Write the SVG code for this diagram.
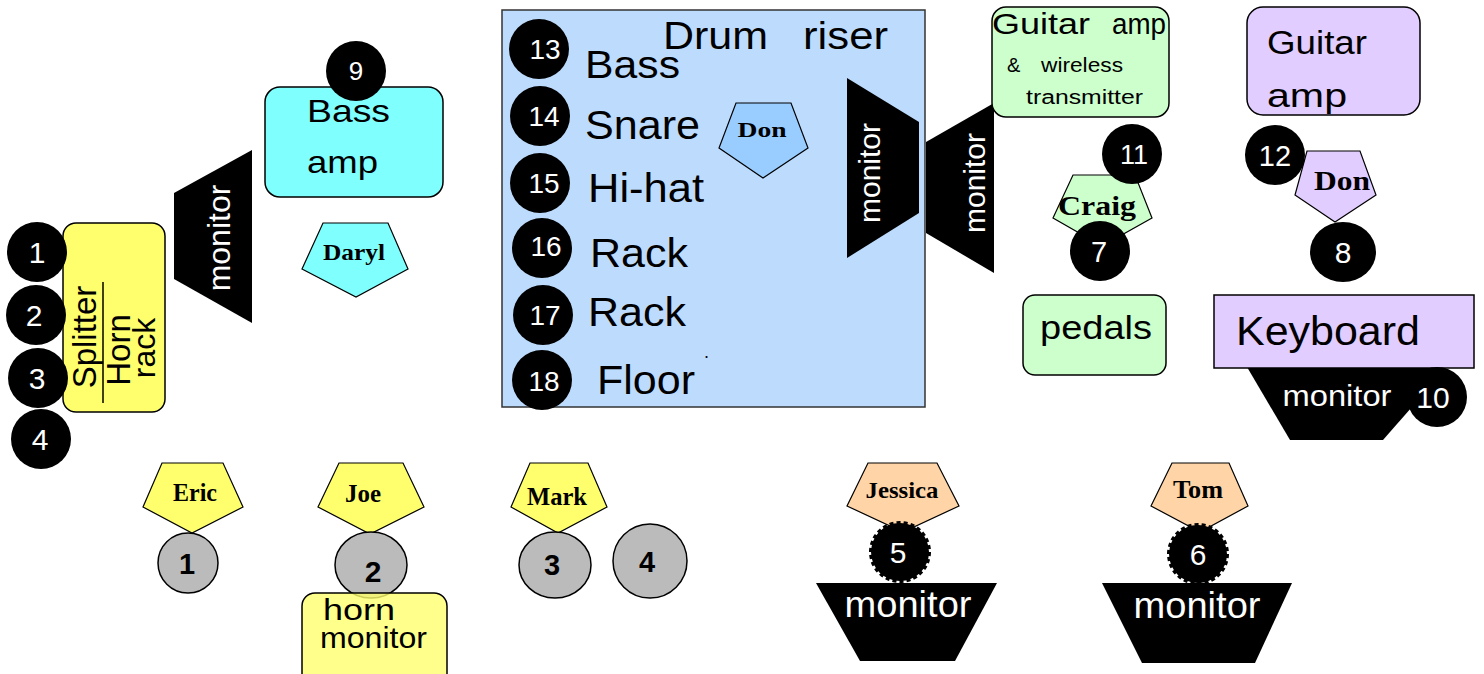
<svg xmlns="http://www.w3.org/2000/svg" width="1484" height="674" viewBox="0 0 1484 674">
<style>
.sans{font-family:"Liberation Sans",Arial,sans-serif}
.ser{font-family:"Liberation Serif","Times New Roman",serif;font-weight:bold;fill:#000;text-anchor:middle}
.bc{fill:#000}
.gc{fill:#bbbbbb;stroke:#000;stroke-width:1.5}
.wn{font-family:"Liberation Sans",Arial,sans-serif;fill:#fff;text-anchor:middle}
.gn{font-family:"Liberation Sans",Arial,sans-serif;fill:#000;font-weight:bold;text-anchor:middle}
.mon{fill:#000}
.box{stroke:#000;stroke-width:1.5}
.pent{stroke:#000;stroke-width:1.2}
.t{font-family:"Liberation Sans",Arial,sans-serif;fill:#000}
</style>
<rect width="1484" height="674" fill="#fff"/>
<g id="connectors"></g>

<g id="drum-riser">
<rect x="502" y="10" width="423" height="397" fill="#bddcfd" stroke="#333" stroke-width="1.5"/>
<text class="t" x="663" y="49" font-size="38" textLength="105" lengthAdjust="spacingAndGlyphs">Drum</text>
<text class="t" x="803" y="49" font-size="38" textLength="85" lengthAdjust="spacingAndGlyphs">riser</text>
<text class="t" x="585" y="78" font-size="38" textLength="95" lengthAdjust="spacingAndGlyphs">Bass</text>
<text class="t" x="585" y="139" font-size="40" textLength="115" lengthAdjust="spacingAndGlyphs">Snare</text>
<text class="t" x="588" y="202" font-size="40" textLength="116" lengthAdjust="spacingAndGlyphs">Hi-hat</text>
<text class="t" x="590" y="267" font-size="40" textLength="98" lengthAdjust="spacingAndGlyphs">Rack</text>
<text class="t" x="588" y="326" font-size="40" textLength="98" lengthAdjust="spacingAndGlyphs">Rack</text>
<text class="t" x="597" y="394" font-size="40" textLength="98" lengthAdjust="spacingAndGlyphs">Floor</text>
<text class="t" x="704" y="358" font-size="18">.</text>
</g>

<g id="c13"><circle class="bc" cx="539" cy="49" r="30"/><text class="wn" x="545" y="59" font-size="28">13</text></g>
<g id="c14"><circle class="bc" cx="540" cy="116" r="30"/><text class="wn" x="544" y="126" font-size="28">14</text></g>
<g id="c15"><circle class="bc" cx="540" cy="183" r="30"/><text class="wn" x="544" y="193" font-size="28">15</text></g>
<g id="c16"><circle class="bc" cx="542" cy="248" r="30"/><text class="wn" x="546" y="256" font-size="28">16</text></g>
<g id="c17"><circle class="bc" cx="543" cy="315" r="30"/><text class="wn" x="545" y="325" font-size="28">17</text></g>
<g id="c18"><circle class="bc" cx="542" cy="380" r="30"/><text class="wn" x="544" y="391" font-size="28">18</text></g>

<g id="don-drums">
<polygon class="pent" fill="#99ccff" points="736,103 791,103 808,148 763,178 719,148"/>
<text class="ser" x="762" y="137" font-size="22" textLength="49" lengthAdjust="spacingAndGlyphs">Don</text>
</g>

<g id="riser-monitor">
<polygon class="mon" points="847,78 919,122 919,213 847,258"/>
<text class="wn" font-size="30" transform="translate(880,173) rotate(-90)">monitor</text>
</g>

<g id="right-monitor">
<polygon class="mon" points="926,142 994,103 994,273 926,233"/>
<text class="wn" font-size="30" transform="translate(985,183) rotate(-90)">monitor</text>
</g>

<g id="left-monitor">
<polygon class="mon" points="174,193 252,150 252,323 174,279"/>
<text class="wn" font-size="32" transform="translate(230,238) rotate(-90)">monitor</text>
</g>

<g id="splitter">
<rect class="box" x="63" y="223" width="102" height="189" rx="13" fill="#ffff6e"/>
<line x1="103" y1="282" x2="103" y2="403" stroke="#000" stroke-width="1.5"/>
<text class="t" font-size="33" text-anchor="middle" transform="translate(96,337) rotate(-90)">Splitter</text>
<text class="t" font-size="33" text-anchor="middle" transform="translate(130,350) rotate(-90)">Horn</text>
<text class="t" font-size="32" text-anchor="middle" transform="translate(155,348) rotate(-90)">rack</text>
</g>

<g id="c1"><circle class="bc" cx="37" cy="252" r="30"/><text class="wn" x="37" y="263" font-size="30">1</text></g>
<g id="c2"><circle class="bc" cx="36" cy="315" r="30"/><text class="wn" x="34" y="326" font-size="30">2</text></g>
<g id="c3"><circle class="bc" cx="38" cy="378" r="30"/><text class="wn" x="37" y="389" font-size="30">3</text></g>
<g id="c4"><circle class="bc" cx="41" cy="439" r="30"/><text class="wn" x="40" y="450" font-size="30">4</text></g>

<g id="bass-amp">
<rect class="box" x="265" y="87" width="178" height="110" rx="15" fill="#80ffff"/>
<text class="t" x="307" y="122" font-size="32" textLength="83" lengthAdjust="spacingAndGlyphs">Bass</text>
<text class="t" x="307" y="173" font-size="32" textLength="71" lengthAdjust="spacingAndGlyphs">amp</text>
</g>
<g id="c9"><circle class="bc" cx="356" cy="71" r="30"/><text class="wn" x="356" y="80" font-size="26">9</text></g>

<g id="daryl">
<polygon class="pent" fill="#80ffff" points="323,223 388,223 408,269 356,297 302,269"/>
<text class="ser" x="354" y="260" font-size="24" textLength="62" lengthAdjust="spacingAndGlyphs">Daryl</text>
</g>

<g id="guitar-amp-craig">
<rect class="box" x="992" y="7" width="177" height="110" rx="14" fill="#ccffcc"/>
<text class="t" x="992" y="34" font-size="30" textLength="98" lengthAdjust="spacingAndGlyphs">Guitar</text>
<text class="t" x="1112" y="34" font-size="30" textLength="54" lengthAdjust="spacingAndGlyphs">amp</text>
<text class="t" x="1007" y="72" font-size="20">&amp;</text>
<text class="t" x="1041" y="72" font-size="20" textLength="82" lengthAdjust="spacingAndGlyphs">wireless</text>
<text class="t" x="1026" y="104" font-size="20" textLength="117" lengthAdjust="spacingAndGlyphs">transmitter</text>
</g>

<g id="craig">
<polygon class="pent" fill="#ccffcc" points="1073,175 1135,175 1152,218 1102,246 1053,218"/>
<text class="ser" x="1097" y="215" font-size="27" textLength="78" lengthAdjust="spacingAndGlyphs">Craig</text>
</g>
<g id="c11"><circle class="bc" cx="1132" cy="154" r="30"/><text class="wn" x="1134" y="164" font-size="27">11</text></g>
<g id="c7"><circle class="bc" cx="1100" cy="251" r="30"/><text class="wn" x="1099" y="262" font-size="29">7</text></g>

<g id="pedals">
<rect class="box" x="1023" y="295" width="143" height="80" rx="12" fill="#ccffcc"/>
<text class="t" x="1040" y="339" font-size="34" textLength="112" lengthAdjust="spacingAndGlyphs">pedals</text>
</g>

<g id="guitar-amp-don">
<rect class="box" x="1247" y="7" width="173" height="108" rx="16" fill="#e1cdff"/>
<text class="t" x="1267" y="54" font-size="34" textLength="100" lengthAdjust="spacingAndGlyphs">Guitar</text>
<text class="t" x="1267" y="107" font-size="34" textLength="80" lengthAdjust="spacingAndGlyphs">amp</text>
</g>

<g id="don-keys">
<polygon class="pent" fill="#e1cdff" points="1307,151 1360,151 1376,195 1335,222 1295,195"/>
<text class="ser" x="1342" y="190" font-size="28" textLength="56" lengthAdjust="spacingAndGlyphs">Don</text>
</g>
<g id="c12"><circle class="bc" cx="1275" cy="155" r="30"/><text class="wn" x="1275" y="166" font-size="29">12</text></g>
<g id="c8"><ellipse class="bc" cx="1343" cy="252" rx="33" ry="30"/><text class="wn" x="1343" y="263" font-size="30">8</text></g>

<g id="keyboard-monitor">
<polygon class="mon" points="1247,367 1447,367 1383,440 1290,440"/>
<text class="wn" x="1337" y="406" font-size="30" textLength="109" lengthAdjust="spacingAndGlyphs">monitor</text>
</g>
<g id="keyboard">
<rect x="1214" y="295" width="260" height="73" fill="#e1cdff" stroke="#000" stroke-width="1.5"/>
<text class="t" x="1236" y="345" font-size="40" textLength="184" lengthAdjust="spacingAndGlyphs">Keyboard</text>
</g>
<g id="c10"><circle class="bc" cx="1437" cy="397" r="30"/><text class="wn" x="1433" y="408" font-size="30">10</text></g>

<g id="eric">
<polygon class="pent" fill="#ffff6e" points="162,463 223,463 243,507 192,533 143,507"/>
<text class="ser" x="195" y="501" font-size="25" textLength="44" lengthAdjust="spacingAndGlyphs">Eric</text>
</g>
<g id="g1"><circle class="gc" cx="188" cy="563" r="30"/><text class="gn" x="187" y="574" font-size="29">1</text></g>

<g id="joe">
<polygon class="pent" fill="#ffff6e" points="339,463 403,463 424,507 370,534 318,507"/>
<text class="ser" x="363" y="502" font-size="25" textLength="36" lengthAdjust="spacingAndGlyphs">Joe</text>
</g>
<g id="g2"><ellipse class="gc" cx="371" cy="565" rx="36" ry="33"/><text class="gn" x="373" y="582" font-size="30">2</text></g>

<g id="horn-monitor">
<rect x="302" y="593" width="145" height="95" rx="13" fill="#ffff6e" fill-opacity="0.8" stroke="#000" stroke-width="1.5"/>
<text class="t" x="323" y="620" font-size="29" textLength="72" lengthAdjust="spacingAndGlyphs">horn</text>
<text class="t" x="320" y="648" font-size="29" textLength="107" lengthAdjust="spacingAndGlyphs">monitor</text>
</g>

<g id="mark">
<polygon class="pent" fill="#ffff6e" points="530,463 588,463 607,507 558,533 511,507"/>
<text class="ser" x="557" y="505" font-size="25" textLength="60" lengthAdjust="spacingAndGlyphs">Mark</text>
</g>
<g id="g3"><ellipse class="gc" cx="555" cy="565" rx="36" ry="33"/><text class="gn" x="552" y="575" font-size="29">3</text></g>
<g id="g4"><circle class="gc" cx="650" cy="561" r="37"/><text class="gn" x="647" y="572" font-size="29">4</text></g>

<g id="jessica">
<polygon class="pent" fill="#ffd5a8" points="868,463 937,463 959,506 903,532 847,506"/>
<text class="ser" x="902" y="498" font-size="24" textLength="73" lengthAdjust="spacingAndGlyphs">Jessica</text>
</g>
<g id="jessica-monitor">
<polygon class="mon" points="816,583 997,583 955,661 860,661"/>
<text class="wn" x="908" y="617" font-size="36" textLength="127" lengthAdjust="spacingAndGlyphs">monitor</text>
</g>
<g id="c5"><circle cx="900" cy="552" r="29" fill="#000" stroke="#000" stroke-width="4" stroke-dasharray="4,3"/><text class="wn" x="898" y="563" font-size="30">5</text></g>

<g id="tom">
<polygon class="pent" fill="#ffd5a8" points="1172,463 1229,463 1248,506 1200,532 1151,506"/>
<text class="ser" x="1198" y="498" font-size="25" textLength="50" lengthAdjust="spacingAndGlyphs">Tom</text>
</g>
<g id="tom-monitor">
<polygon class="mon" points="1102,583 1292,583 1255,663 1142,663"/>
<text class="wn" x="1197" y="618" font-size="36" textLength="127" lengthAdjust="spacingAndGlyphs">monitor</text>
</g>
<g id="c6"><circle cx="1198" cy="554" r="29" fill="#000" stroke="#000" stroke-width="4" stroke-dasharray="4,3"/><text class="wn" x="1198" y="565" font-size="30">6</text></g>
</svg>
